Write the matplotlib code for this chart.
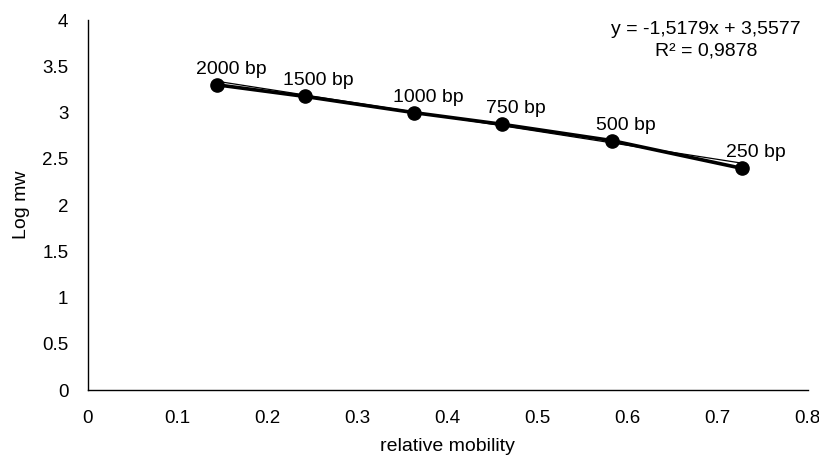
import matplotlib
matplotlib.use('Agg')
import matplotlib.pyplot as plt
import numpy as np

plt.rcParams['font.family'] = ['Liberation Sans', 'DejaVu Sans']

# band data
labels = ['2000 bp', '1500 bp', '1000 bp', '750 bp', '500 bp', '250 bp']
rel_mob = [0.144, 0.241, 0.363, 0.460, 0.582, 0.727]
log_mw = [3.301, 3.176, 3.000, 2.875, 2.699, 2.398]
eq_text = 'y = -1,5179x + 3,5577\nR² = 0,9878'
slope, intercept = -1.5179, 3.5577

fig = plt.figure(figsize=(8.2, 4.59), dpi=100)
ax = fig.add_axes([0.107, 0.150, 0.878, 0.806])

# thin trendline
xt = np.array([rel_mob[0], rel_mob[-1]])
ax.plot(xt, slope * xt + intercept, color='black', lw=0.9, zorder=2)
# data line with markers
ax.plot(rel_mob, log_mw, color='black', lw=2.6, marker='o', ms=9.5, zorder=3)

for x, y, t in zip(rel_mob, log_mw, labels):
    ax.annotate(t, (x, y), xytext=(14, 11), textcoords='offset pixels',
                ha='center', va='baseline', fontsize=14)

# equation box, last line baseline placed in figure pixels
ax.text(706, 459 - 55, eq_text, transform=None, ha='center', va='baseline',
        fontsize=14, linespacing=1.3, multialignment='center')

ax.set_xlim(0, 0.8)
ax.set_ylim(0, 4)
ax.set_xticks(np.arange(0, 0.81, 0.1))
ax.set_xticklabels(['0', '0.1', '0.2', '0.3', '0.4', '0.5', '0.6', '0.7', '0.8'])
ax.set_yticks(np.arange(0, 4.01, 0.5))
ax.set_yticklabels(['0', '0.5', '1', '1.5', '2', '2.5', '3', '3.5', '4'])
ax.tick_params(length=0, labelsize=13.5)
ax.tick_params(axis='x', pad=14)
ax.tick_params(axis='y', pad=14)
for s in ['top', 'right']:
    ax.spines[s].set_visible(False)
for s in ['left', 'bottom']:
    ax.spines[s].set_linewidth(1.0)
ax.set_xlabel('relative mobility', fontsize=14, labelpad=8)
ax.set_ylabel('Log mw', fontsize=14, labelpad=9)

fig.savefig('out.png', dpi=100)
